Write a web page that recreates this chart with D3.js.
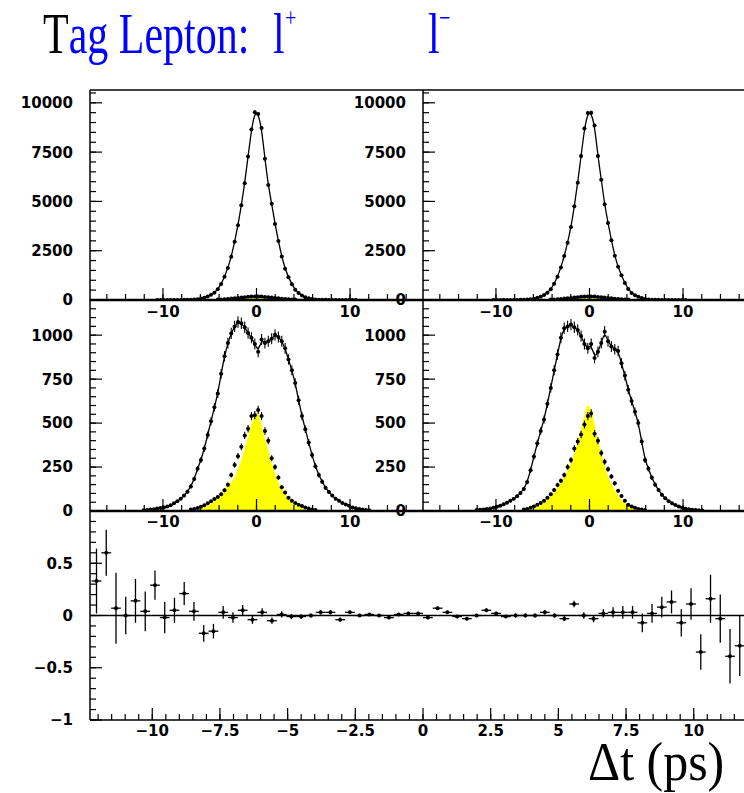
<!DOCTYPE html>
<html>
<head>
<meta charset="utf-8">
<script src="https://cdn.jsdelivr.net/npm/d3@7"></script>
<style>
  body { margin: 0; background: #fff; }
  svg { display: block; }
  .tick-label { font-family: "DejaVu Sans", sans-serif; font-weight: bold; font-size: 15px; fill: #000; }
</style>
</head>
<body>
<div id="chart"></div>
<script>
// bin centres of the delta-t histograms (ps)
const dt = [-12.06,-11.7,-11.34,-10.98,-10.62,-10.26,-9.9,-9.54,-9.18,-8.82,-8.46,-8.1,-7.74,-7.38,-7.02,-6.66,-6.3,-5.94,-5.58,-5.22,-4.86,-4.5,-4.14,-3.78,-3.42,-3.06,-2.7,-2.34,-1.98,-1.62,-1.26,-0.9,-0.54,-0.18,
  0.18,0.54,0.9,1.26,1.62,1.98,2.34,2.7,3.06,3.42,3.78,4.14,4.5,4.86,5.22,5.58,5.94,6.3,6.66,7.02,7.38,7.74,8.1,8.46,8.82,9.18,9.54,9.9,10.26,10.62,10.98,11.34,11.7,12.06];

// top row: all events, l+ and l- tags
const topPlus = [0,0,0,0,1,1,1,2,2,3,4,5,7,
  10,15,24,40,72,118,178,262,372,545,815,1185,1620,2190,2950,3790,4810,5920,7280,8650,9520,
  9430,8720,7160,5830,4880,3860,2990,2210,1590,1160,805,525,352,232,145,86,52,31,19,12,8,6,
  4,3,2,2,1,1,1,1,0,0,0,0];
const topMinus = [0,0,0,0,0,1,1,1,2,2,3,4,6,
  9,14,24,40,68,110,170,255,370,550,820,1180,1650,2230,2900,3700,4750,5950,7300,8700,9480,
  9500,8850,7300,6100,4850,3900,3030,2240,1680,1250,860,560,360,240,160,100,55,30,18,11,7,
  5,4,3,2,2,1,1,1,0,0,0,0,0];
const topBkg = [0,0,0,0,0,0,0,0,0,0,0,0,0,0,0,0,0,0,0,0,0,0,
  20,30,42,55,70,88,105,125,145,160,175,182,180,172,158,142,122,102,85,68,53,40,30,20,
  0,0,0,0,0,0,0,0,0,0,0,0,0,0,0,0,0,0,0,0,0,0];

// middle row: selected events
const midPlus = [4,6,8,10,14,17,20,26,33,44,55,70,
  88,110,140,182,240,290,355,432,510,590,668,780,880,955,1010,1050,1075,1068,1045,1012,985,950,
  905,975,955,965,980,1002,990,965,925,862,800,728,630,540,465,390,318,255,205,167,132,108,
  88,70,58,46,37,30,20,15,11,8,6,4];
const midMinus = [5,7,9,11,14,18,24,30,38,47,58,70,
  84,102,125,165,232,310,385,455,520,610,700,800,890,985,1040,1050,1060,1045,1030,995,950,925,
  950,870,905,955,1020,965,935,920,910,840,770,690,625,565,500,395,290,240,190,150,120,92,
  72,56,44,34,26,18,13,10,7,5,4,3];
const midPlusSig = [0,0,0,0,0,0,0,0,0,0,0,0,0,
  3,5,8,12,17,23,30,42,58,78,100,122,142,165,195,238,292,355,420,495,555,
  555,490,415,345,275,215,165,128,100,72,50,35,24,15,9,6,3,
  0,0,0,0,0,0,0,0,0,0,0,0,0,0,0,0,0];
const midPlusSigPts = [0,0,0,0,0,0,0,0,0,0,0,0,0,0,
  8,12,17,24,32,44,55,68,80,95,118,150,205,262,312,365,430,468,540,545,
  575,540,455,400,300,250,190,135,105,75,58,45,35,28,20,14,9,6,
  0,0,0,0,0,0,0,0,0,0,0,0,0,0,0,0];
const midMinusSig = [0,0,0,0,0,0,0,0,0,0,0,0,2,
  3,5,8,12,18,26,36,50,66,85,108,132,160,192,230,275,330,395,465,545,600,
  575,495,410,330,260,200,155,118,88,64,45,31,21,14,9,5,3,
  0,0,0,0,0,0,0,0,0,0,0,0,0,0,0,0,0];
const midMinusSigPts = [0,0,0,0,0,0,0,0,0,0,0,0,0,0,
  8,12,18,26,35,46,58,75,95,120,148,172,205,250,290,355,395,435,492,540,
  555,440,400,330,280,238,196,158,115,85,58,36,26,18,12,8,5,
  0,0,0,0,0,0,0,0,0,0,0,0,0,0,0,0,0];

// bottom row: asymmetry
const asym = [0.33,0.60,0.07,0.0,0.14,0.04,0.29,-0.02,0.05,0.21,0.04,-0.17,-0.15,0.03,-0.02,0.05,-0.04,0.03,-0.05,0.01,-0.01,-0.01,0.0,0.03,0.03,-0.04,0.03,0.0,0.01,0.0,-0.02,0.01,0.02,0.02,
  -0.02,0.07,0.03,-0.01,-0.03,0.0,0.05,0.02,-0.01,0.0,0.0,0.0,0.03,0.0,-0.03,0.11,0.0,-0.03,0.02,0.03,0.03,0.03,-0.07,0.02,0.08,0.13,-0.07,0.11,-0.35,0.16,-0.03,-0.39,-0.29,-0.15];
const asymErr = [0.31,0.22,0.34,0.18,0.21,0.19,0.14,0.15,0.12,0.11,0.09,0.08,0.07,0.06,0.05,0.05,0.04,0.04,0.03,0.03,0.025,0.02,0.02,0.02,0.02,0.02,0.015,0.015,0.015,0.015,0.015,0.015,0.015,0.015,
  0.015,0.015,0.015,0.015,0.015,0.015,0.015,0.015,0.015,0.02,0.02,0.02,0.02,0.02,0.025,0.03,0.03,0.035,0.04,0.05,0.06,0.06,0.09,0.09,0.1,0.11,0.13,0.15,0.17,0.23,0.23,0.26,0.29,0.32];

// tick labels
const topYTicks = [0, 2500, 5000, 7500, 10000];
const topYLabels = ["0", "2500", "5000", "7500", "10000"];
const midYTicks = [0, 250, 500, 750, 1000];
const midYLabels = ["0", "250", "500", "750", "1000"];
const histXTicks = [-10, 0, 10];
const histXLabels = ["\u221210", "0", "10"];
const botYTicks = [-1, -0.5, 0, 0.5];
const botYLabels = ["\u22121", "\u22120.5", "0", "0.5"];
const botXTicks = [-10, -7.5, -5, -2.5, 0, 2.5, 5, 7.5, 10];
const botXLabels = ["\u221210", "\u22127.5", "\u22125", "\u22122.5", "0", "2.5", "5", "7.5", "10"];

const W = 744, H = 793;
const xL = 90, xM = 423, xR = 756;
const yTop = 90, yA = 300, yB = 511, yBot = 720;
const halfBin = 0.18;

const svg = d3.select("#chart").append("svg").attr("width", W).attr("height", H);
svg.append("rect").attr("width", W).attr("height", H).attr("fill", "#fff");

const xTopLeft = d3.scaleLinear().domain([-17.8, 17.8]).range([xL, xM]);
const xTopRight = d3.scaleLinear().domain([-17.8, 17.8]).range([xM, xR]);
const yTopScale = d3.scaleLinear().domain([0, 10650]).range([yA, yTop]);
const yMidScale = d3.scaleLinear().domain([0, 1200]).range([yB, yA]);
const xBot = d3.scaleLinear().domain([-12.3, 12.3]).range([xL, xR]);
const yBotScale = d3.scaleLinear().domain([-1, 1]).range([yBot, yB]);

let clipCount = 0;
function clipped(x, y) {
  const id = "clip" + (clipCount++);
  svg.append("clipPath").attr("id", id).append("rect")
    .attr("x", x.range()[0]).attr("y", y.range()[1])
    .attr("width", x.range()[1] - x.range()[0])
    .attr("height", y.range()[0] - y.range()[1]);
  return svg.append("g").attr("clip-path", `url(#${id})`);
}

function drawPoints(g, x, y, vals) {
  const pts = vals.map((v, i) => ({ t: dt[i], v: v })).filter(d => d.v > 0);
  const p = g.append("g").attr("stroke", "#000").attr("stroke-width", 1.1);
  p.selectAll("line.ey").data(pts).join("line").attr("class", "ey")
    .attr("x1", d => x(d.t)).attr("x2", d => x(d.t))
    .attr("y1", d => y(d.v + Math.sqrt(d.v)))
    .attr("y2", d => y(Math.max(0, d.v - Math.sqrt(d.v))));
  p.selectAll("line.ex").data(pts).join("line").attr("class", "ex")
    .attr("x1", d => x(d.t - halfBin)).attr("x2", d => x(d.t + halfBin))
    .attr("y1", d => y(d.v)).attr("y2", d => y(d.v));
  g.append("g").selectAll("circle").data(pts).join("circle")
    .attr("cx", d => x(d.t)).attr("cy", d => y(d.v)).attr("r", 2).attr("fill", "#000");
}

function histPanel(x, y, main, sig, sigPts) {
  const g = clipped(x, y);
  const area = d3.area().x((d, i) => x(dt[i])).y0(y(0)).y1(d => y(d)).curve(d3.curveMonotoneX);
  g.append("path").datum(sig).attr("d", area).attr("fill", "#ffff00");
  const fit = d3.line().x((d, i) => x(dt[i])).y(d => y(d)).curve(d3.curveBasis);
  g.append("path").datum(main).attr("d", fit)
    .attr("fill", "none").attr("stroke", "#000").attr("stroke-width", 1.3);
  drawPoints(g, x, y, main);
  drawPoints(g, x, y, sigPts);
}

function yAxis(x0, y, ticks, labels, minors) {
  const g = svg.append("g").attr("stroke", "#000").attr("stroke-width", 1.2);
  g.selectAll("line.mi").data(minors).join("line").attr("class", "mi")
    .attr("x1", x0).attr("x2", x0 + 6).attr("y1", d => y(d)).attr("y2", d => y(d));
  g.selectAll("line.ma").data(ticks).join("line").attr("class", "ma")
    .attr("x1", x0).attr("x2", x0 + 12).attr("y1", d => y(d)).attr("y2", d => y(d));
  svg.append("g").selectAll("text").data(ticks).join("text")
    .attr("class", "tick-label")
    .attr("x", x0 - 17).attr("y", d => y(d)).attr("dy", "0.36em")
    .attr("text-anchor", "end")
    .text((d, i) => labels[i]);
}

function xAxis(y0, x, ticks, labels, minors, labelY) {
  const g = svg.append("g").attr("stroke", "#000").attr("stroke-width", 1.2);
  const inside = minors.filter(d => x(d) > x.range()[0] + 1);
  g.selectAll("line.mi").data(inside).join("line").attr("class", "mi")
    .attr("x1", d => x(d)).attr("x2", d => x(d)).attr("y1", y0).attr("y2", y0 - 6);
  g.selectAll("line.ma").data(ticks).join("line").attr("class", "ma")
    .attr("x1", d => x(d)).attr("x2", d => x(d)).attr("y1", y0).attr("y2", y0 - 12);
  svg.append("g").selectAll("text").data(ticks).join("text")
    .attr("class", "tick-label")
    .attr("x", d => x(d)).attr("y", labelY)
    .attr("text-anchor", "middle")
    .text((d, i) => labels[i]);
}

// histogram panels
histPanel(xTopLeft, yTopScale, topPlus, topBkg, topBkg);
histPanel(xTopRight, yTopScale, topMinus, topBkg, topBkg);
histPanel(xTopLeft, yMidScale, midPlus, midPlusSig, midPlusSigPts);
histPanel(xTopRight, yMidScale, midMinus, midMinusSig, midMinusSigPts);

// asymmetry panel
const gb = clipped(xBot, yBotScale);
gb.append("line").attr("x1", xL).attr("x2", xR).attr("y1", yBotScale(0)).attr("y2", yBotScale(0))
  .attr("stroke", "#000").attr("stroke-width", 1.3);
const apts = asym.map((v, i) => ({ t: dt[i], v: v, e: asymErr[i] }));
const ab = gb.append("g").attr("stroke", "#000").attr("stroke-width", 1.3);
ab.selectAll("line.ey").data(apts).join("line").attr("class", "ey")
  .attr("x1", d => xBot(d.t)).attr("x2", d => xBot(d.t))
  .attr("y1", d => yBotScale(d.v + d.e)).attr("y2", d => yBotScale(d.v - d.e));
ab.selectAll("line.ex").data(apts).join("line").attr("class", "ex")
  .attr("x1", d => xBot(d.t - halfBin)).attr("x2", d => xBot(d.t + halfBin))
  .attr("y1", d => yBotScale(d.v)).attr("y2", d => yBotScale(d.v));
gb.append("g").selectAll("circle").data(apts).join("circle")
  .attr("cx", d => xBot(d.t)).attr("cy", d => yBotScale(d.v)).attr("r", 2).attr("fill", "#000");

// frames
const frame = svg.append("g").attr("stroke", "#000");
frame.append("line").attr("x1", xL).attr("x2", W).attr("y1", yTop).attr("y2", yTop).attr("stroke-width", 1.5);
frame.append("line").attr("x1", xL).attr("x2", W).attr("y1", yA).attr("y2", yA).attr("stroke-width", 2.5);
frame.append("line").attr("x1", xL).attr("x2", W).attr("y1", yB).attr("y2", yB).attr("stroke-width", 2.5);
frame.append("line").attr("x1", xL).attr("x2", W).attr("y1", yBot).attr("y2", yBot).attr("stroke-width", 1.5);
frame.append("line").attr("x1", xL).attr("x2", xL).attr("y1", yTop).attr("y2", yBot).attr("stroke-width", 1.5);
frame.append("line").attr("x1", xM).attr("x2", xM).attr("y1", yTop).attr("y2", yB).attr("stroke-width", 1.5);

// axes
const topMinors = d3.range(0, 10650, 500);
const midMinors = d3.range(0, 1200, 50);
const histXMinors = d3.range(-16, 17, 2);
yAxis(xL, yTopScale, topYTicks, topYLabels, topMinors);
yAxis(xM, yTopScale, topYTicks, topYLabels, topMinors);
yAxis(xL, yMidScale, midYTicks, midYLabels, midMinors);
yAxis(xM, yMidScale, midYTicks, midYLabels, midMinors);
xAxis(yA, xTopLeft, histXTicks, histXLabels, histXMinors, 317);
xAxis(yA, xTopRight, histXTicks, histXLabels, histXMinors, 317);
xAxis(yB, xTopLeft, histXTicks, histXLabels, histXMinors, 527);
xAxis(yB, xTopRight, histXTicks, histXLabels, histXMinors, 527);
yAxis(xL, yBotScale, botYTicks, botYLabels, d3.range(-10, 11, 1).map(d => d / 10));
xAxis(yBot, xBot, botXTicks, botXLabels, d3.range(-24, 25, 1).map(d => d / 2), 736);

// title
const serif = '"Liberation Serif", "Times New Roman", serif';
const title = svg.append("g").attr("transform", "translate(0,53) scale(1,1.36)")
  .style("font-family", serif);
const t1 = title.append("text").attr("x", 43).attr("y", 0).style("font-size", "42px");
t1.append("tspan").attr("fill", "#000").text("T");
t1.append("tspan").attr("fill", "#0000ff").text("ag Lepton:");
title.append("text").attr("x", 273).attr("y", 0).style("font-size", "42px").attr("fill", "#0000ff").text("l");
title.append("text").attr("x", 285).attr("y", -19).style("font-size", "20px").attr("fill", "#0000ff").text("+");
title.append("text").attr("x", 428).attr("y", 0).style("font-size", "42px").attr("fill", "#0000ff").text("l");
title.append("text").attr("x", 439).attr("y", -19).style("font-size", "20px").attr("fill", "#0000ff").text("\u2212");

// x axis title
svg.append("g").attr("transform", "translate(588,780) scale(1,1.1)")
  .append("text").style("font-family", serif).style("font-size", "50px").attr("fill", "#000")
  .text("\u0394t (ps)");
</script>
</body>
</html>
